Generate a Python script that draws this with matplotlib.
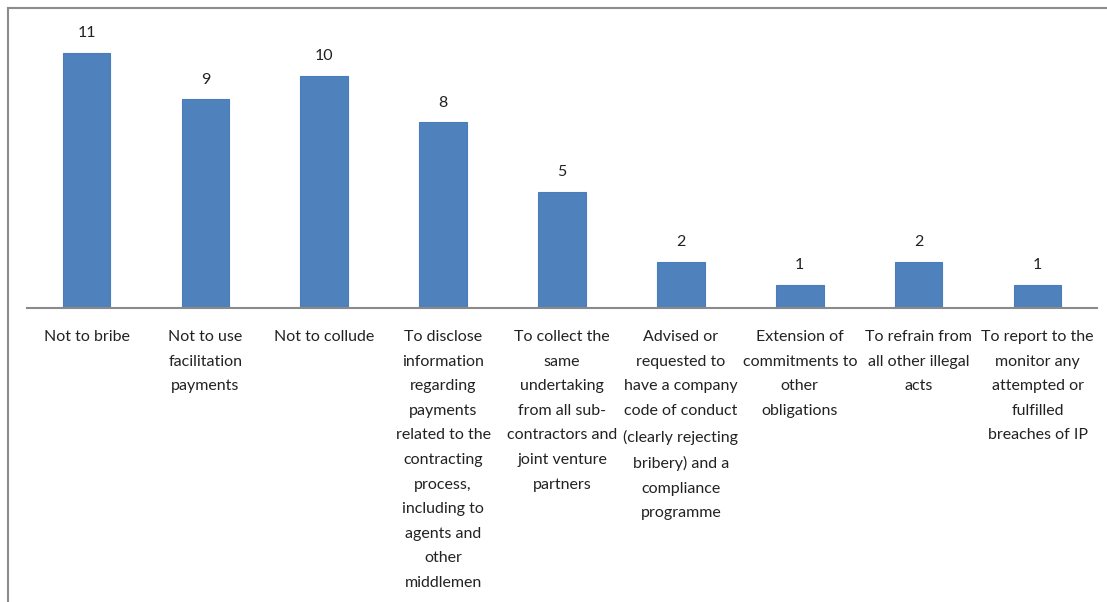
import matplotlib
matplotlib.use("Agg")
import matplotlib.pyplot as plt
from matplotlib.lines import Line2D

categories = [
    "Not to bribe",
    "Not to use\nfacilitation\npayments",
    "Not to collude",
    "To disclose\ninformation\nregarding\npayments\nrelated to the\ncontracting\nprocess,\nincluding to\nagents and\nother\nmiddlemen",
    "To collect the\nsame\nundertaking\nfrom all sub-\ncontractors and\njoint venture\npartners",
    "Advised or\nrequested to\nhave a company\ncode of conduct\n(clearly rejecting\nbribery) and a\ncompliance\nprogramme",
    "Extension of\ncommitments to\nother\nobligations",
    "To refrain from\nall other illegal\nacts",
    "To report to the\nmonitor any\nattempted or\nfulfilled\nbreaches of IP",
]
values = [11, 9, 10, 8, 5, 2, 1, 2, 1]

plt.rcParams['font.family'] = ['Lato', 'DejaVu Sans']

fig = plt.figure(figsize=(11.07, 6.02), dpi=100)
ax = fig.add_axes([27/1107, 1 - 308/602, 1070/1107, (308 - 29.6)/602])

x = list(range(len(values)))
ax.bar(x, values, width=0.40, color='#4F81BD', edgecolor='#4A7DBA', linewidth=0.8)
for xi, v in zip(x, values):
    ax.annotate(str(v), (xi, v), xytext=(0, 9), textcoords='offset points',
                ha='center', va='bottom', fontsize=11.5, color='#222222')

ax.set_xlim(-0.5, len(values) - 0.5)
ax.set_ylim(0, 12)
ax.set_yticks([])
ax.set_xticks(x)
ax.set_xticklabels([''] * len(x))
ax.tick_params(axis='x', length=0)
for xi, lab in zip(x, categories):
    ax.annotate(lab, (xi, 0), xycoords=('data', 'axes fraction'),
                xytext=(0, -16), textcoords='offset points',
                ha='center', va='top', multialignment='center',
                fontsize=11.5, color='#222222', linespacing=1.96,
                annotation_clip=False)
for s in ['top', 'right', 'left']:
    ax.spines[s].set_visible(False)
ax.spines['bottom'].set_color('#8a8a8a')
ax.spines['bottom'].set_linewidth(1.5)

# outer frame (top and left)
W, H = 1107, 602
fig.add_artist(Line2D([8/W, 1.0], [1 - 8/H, 1 - 8/H], color='#8c8c8c', linewidth=1.5, transform=fig.transFigure))
fig.add_artist(Line2D([8/W, 8/W], [0, 1 - 8/H], color='#8c8c8c', linewidth=1.5, transform=fig.transFigure))

fig.savefig('out.png', dpi=100)
